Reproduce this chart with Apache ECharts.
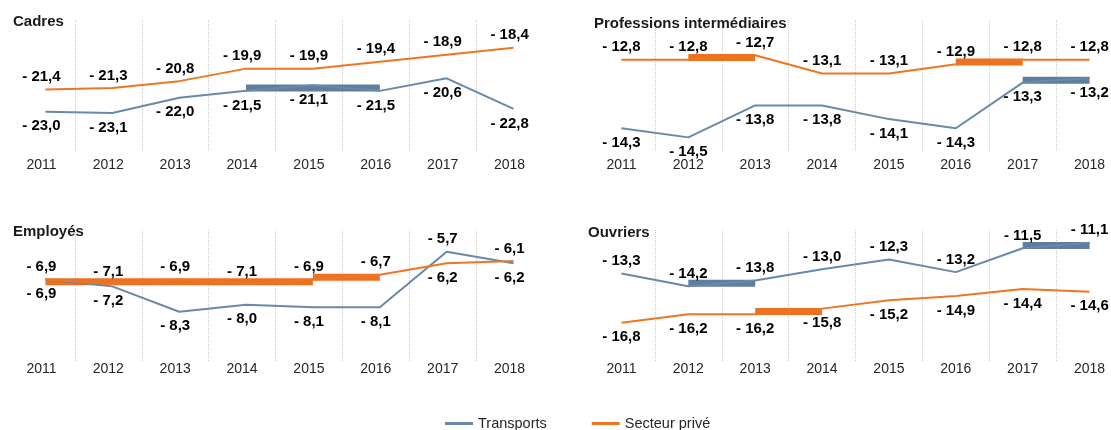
<!DOCTYPE html>
<html>
<head>
<meta charset="utf-8">
<script src="https://cdn.jsdelivr.net/npm/echarts@6/dist/echarts.min.js"></script>
<style>
  html, body { margin: 0; padding: 0; background: #fff; }
  #chart { width: 1111px; height: 430px; }
</style>
</head>
<body>
<div id="chart"></div>
<script>
const years = ['2011', '2012', '2013', '2014', '2015', '2016', '2017', '2018'];

const cadresTransports = [-23.0, -23.1, -22.0, -21.5, -21.1, -21.5, -20.6, -22.8];
const cadresPrive = [-21.4, -21.3, -20.8, -19.9, -19.9, -19.4, -18.9, -18.4];
const cadresBars = [{ serie: 'Transports', from: '2014', to: '2016', value: -21.3 }];

const profTransports = [-14.3, -14.5, -13.8, -13.8, -14.1, -14.3, -13.3, -13.2];
const profPrive = [-12.8, -12.8, -12.7, -13.1, -13.1, -12.9, -12.8, -12.8];
const profBars = [
  { serie: 'Secteur privé', from: '2012', to: '2013', value: -12.75 },
  { serie: 'Secteur privé', from: '2016', to: '2017', value: -12.85 },
  { serie: 'Transports', from: '2017', to: '2018', value: -13.25 }
];

const employesTransports = [-6.9, -7.2, -8.3, -8.0, -8.1, -8.1, -5.7, -6.2];
const employesPrive = [-6.9, -7.1, -6.9, -7.1, -6.9, -6.7, -6.2, -6.1];
const employesBars = [
  { serie: 'Secteur privé', from: '2011', to: '2015', value: -7.0 },
  { serie: 'Secteur privé', from: '2015', to: '2016', value: -6.8 }
];

const ouvriersTransports = [-13.3, -14.2, -13.8, -13.0, -12.3, -13.2, -11.5, -11.1];
const ouvriersPrive = [-16.8, -16.2, -16.2, -15.8, -15.2, -14.9, -14.4, -14.6];
const ouvriersBars = [
  { serie: 'Transports', from: '2012', to: '2013', value: -14.0 },
  { serie: 'Transports', from: '2017', to: '2018', value: -11.3 },
  { serie: 'Secteur privé', from: '2013', to: '2014', value: -16.0 }
];

const FONT = "'Liberation Sans', Arial, sans-serif";
const lineColors = { 'Transports': '#6a88a8', 'Secteur privé': '#ee7623' };
const barColors = { 'Transports': '#5f7e9e', 'Secteur privé': '#ee7020' };

// one entry per small chart: grid box + y range
// shift: the curves of the left-hand charts sit a few px right of the year ticks
const panels = [
  { title: 'Cadres', tx: 13, ty: 14, left: 8, top: 20, height: 132, min: -25.9, max: -16.4, margin: 6, shift: 4,
    transports: cadresTransports, prive: cadresPrive, bars: cadresBars },
  { title: 'Professions intermédiaires', tx: 594, ty: 16, left: 588, top: 20, height: 132, min: -14.82, max: -11.93, margin: 6, shift: 0,
    transports: profTransports, prive: profPrive, bars: profBars },
  { title: 'Employés', tx: 13, ty: 224, left: 8, top: 230, height: 131, min: -10.43, max: -4.76, margin: 1, shift: 4,
    transports: employesTransports, prive: employesPrive, bars: employesBars },
  { title: 'Ouvriers', tx: 588, ty: 225, left: 588, top: 230, height: 131, min: -19.53, max: -10.2, margin: 1, shift: 0,
    transports: ouvriersTransports, prive: ouvriersPrive, bars: ouvriersBars }
];

function fmt(v) {
  return '- ' + Math.abs(v).toFixed(1).replace('.', ',');
}

const title = [], grid = [], xAxis = [], yAxis = [], series = [];
const n = panels.length;

panels.forEach((p, k) => {
  title.push({
    text: p.title, left: p.tx, top: p.ty, padding: 0,
    textStyle: { fontFamily: FONT, fontSize: 15, fontWeight: 'bold', color: '#1a1a1a' }
  });
  // grid k: visible year axis + dotted separators
  grid[k] = { left: p.left, top: p.top, width: 535, height: p.height, outerBoundsMode: 'none' };
  xAxis[k] = {
    gridIndex: k, type: 'category', data: years, boundaryGap: true,
    axisLine: { show: false }, axisTick: { show: false },
    axisLabel: { fontFamily: FONT, fontSize: 14, color: '#262626', margin: p.margin },
    splitLine: { show: true, showMinLine: false, showMaxLine: false,
      lineStyle: { color: '#c8c8c8', type: 'dotted', width: 1 } }
  };
  yAxis[k] = { gridIndex: k, type: 'value', min: p.min, max: p.max, show: false, splitLine: { show: false } };

  // grid n+k: same box, holds the curves
  const g = n + k;
  grid[g] = { left: p.left + p.shift, top: p.top, width: 535, height: p.height, outerBoundsMode: 'none' };
  xAxis[g] = { gridIndex: g, type: 'category', data: years, boundaryGap: true, show: false };
  yAxis[g] = { gridIndex: g, type: 'value', min: p.min, max: p.max, show: false, splitLine: { show: false } };

  // thick highlight segments
  p.bars.forEach(b => {
    const i0 = years.indexOf(b.from), i1 = years.indexOf(b.to);
    series.push({
      type: 'line', xAxisIndex: g, yAxisIndex: g, z: 1, silent: true,
      symbol: 'none',
      lineStyle: { color: barColors[b.serie], width: 7, cap: 'butt' },
      data: years.map((y, i) => (i >= i0 && i <= i1 ? b.value : '-'))
    });
  });

  const lines = [['Transports', p.transports, p.prive], ['Secteur privé', p.prive, p.transports]];
  lines.forEach(([name, vals, other]) => {
    series.push({
      name, type: 'line', xAxisIndex: g, yAxisIndex: g, z: 2,
      symbol: 'circle', symbolSize: 0, showSymbol: true,
      lineStyle: { color: lineColors[name], width: 2 },
      itemStyle: { color: lineColors[name] },
      data: vals.map((v, i) => {
        // the higher of the two series gets its label above
        const up = v > other[i] || (v === other[i] && name === 'Secteur privé');
        return {
          value: v,
          label: {
            show: true, position: up ? 'top' : 'bottom', distance: up ? 5 : 7,
            offset: [-p.shift, 0],
            formatter: fmt(v),
            fontFamily: FONT, fontSize: 15, fontWeight: 'bold', color: '#000'
          }
        };
      })
    });
  });
});

const chart = echarts.init(document.getElementById('chart'));
chart.setOption({
  animation: false,
  title,
  grid,
  xAxis,
  yAxis,
  legend: {
    data: ['Transports', 'Secteur privé'],
    left: 445, top: 416, padding: 0, itemGap: 45,
    icon: 'rect', itemWidth: 28, itemHeight: 3,
    textStyle: { fontFamily: FONT, fontSize: 14.5, color: '#262626' }
  },
  series
});
</script>
</body>
</html>
